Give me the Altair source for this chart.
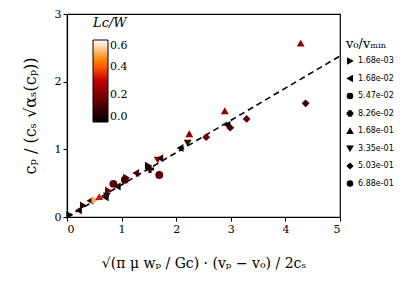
import altair as alt
import pandas as pd

# scatter data
x_vals = [0.05, 0.21, 0.30, 0.42, 0.51, 0.59, 0.70, 0.73, 0.76, 0.85, 0.92, 1.06, 1.09, 1.26,
          1.49, 1.52, 1.66, 1.70, 1.69, 2.07, 2.21, 2.24, 2.55, 2.89, 2.93, 2.99, 3.29, 4.28, 4.37]
y_vals = [0.03, 0.10, 0.17, 0.24, 0.25, 0.30, 0.29, 0.31, 0.39, 0.49, 0.45, 0.55, 0.58, 0.65,
          0.76, 0.71, 0.84, 0.87, 0.62, 1.02, 1.09, 1.23, 1.18, 1.57, 1.36, 1.32, 1.45, 2.57, 1.68]
lc_vals = [0.02, 0.05, 0.05, 0.08, 0.50, 0.32, 0.03, 0.05, 0.15, 0.14, 0.02, 0.12, 0.10, 0.10,
           0.06, 0.04, 0.25, 0.05, 0.14, 0.02, 0.10, 0.22, 0.17, 0.22, 0.00, 0.12, 0.13, 0.23, 0.08]
v0_vals = ["1.68e-03", "1.68e-02", "1.68e-03", "1.68e-02", "1.68e-03", "1.68e-01", "1.68e-02",
           "3.35e-01", "1.68e-03", "6.88e-01", "1.68e-02", "5.47e-02", "1.68e-03", "1.68e-02",
           "1.68e-03", "8.26e-02", "3.35e-01", "1.68e-02", "6.88e-01", "1.68e-02", "3.35e-01",
           "1.68e-01", "5.03e-01", "1.68e-01", "1.68e-02", "5.03e-01", "5.03e-01", "1.68e-01",
           "5.03e-01"]

v0_categories = ["1.68e-03", "1.68e-02", "5.47e-02", "8.26e-02",
                 "1.68e-01", "3.35e-01", "5.03e-01", "6.88e-01"]
v0_shapes = ["triangle-right", "triangle-left", "circle", "cross",
             "triangle-up", "triangle-down", "diamond", "circle"]

# dashed fit line
line_x = [0, 5]
line_y = [0, 2.38]

# gist_heat-like colormap
cmap_domain = [0, 0.3, 0.4, 0.45, 0.6]
cmap_range = ["#000000", "#bf0000", "#ff5500", "#ff8000", "#ffffff"]

df = pd.DataFrame({"x": x_vals, "y": y_vals, "lc": lc_vals, "v0": v0_vals})
df_line = pd.DataFrame({"x": line_x, "y": line_y})

serif = "DejaVu Serif"

xscale = alt.Scale(domain=[0, 5], nice=False)
yscale = alt.Scale(domain=[0, 3], nice=False)

xaxis = alt.Axis(values=[0, 1, 2, 3, 4, 5], title="√(π μ wₚ / Gc) · (vₚ − v₀) / 2cₛ",
                 titlePadding=22, titleFontSize=14)
yaxis = alt.Axis(values=[0, 1, 2, 3], title="cₚ / (cₛ √αₛ(cₚ))", titlePadding=16,
                 titleFontSize=16)

line = alt.Chart(df_line).mark_line(color="black", strokeDash=[6, 4], strokeWidth=1.6).encode(
    x=alt.X("x:Q", scale=xscale, axis=xaxis),
    y=alt.Y("y:Q", scale=yscale, axis=yaxis),
)

points = alt.Chart(df).mark_point(filled=True, size=62, opacity=1).encode(
    x=alt.X("x:Q", scale=xscale, axis=xaxis),
    y=alt.Y("y:Q", scale=yscale, axis=yaxis),
    color=alt.Color("lc:Q",
                    scale=alt.Scale(domain=cmap_domain, range=cmap_range, interpolate="rgb"),
                    legend=alt.Legend(title="Lc/W", orient="none", legendX=26, legendY=3,
                                      values=[0, 0.2, 0.4, 0.6], gradientLength=82,
                                      gradientThickness=15, gradientStrokeColor="black",
                                      gradientStrokeWidth=1, direction="vertical",
                                      titleFont=serif, titleFontStyle="italic",
                                      titleFontWeight="normal", titleFontSize=13,
                                      labelFont=serif, labelFontSize=11, format=".1f",
                                      tickCount=4, titlePadding=10)),
    shape=alt.Shape("v0:N", scale=alt.Scale(domain=v0_categories, range=v0_shapes),
                    legend=alt.Legend(title="v₀/vₘᵢₙ", orient="none", legendX=279, legendY=24,
                                      titleFont=serif, titleFontWeight="normal",
                                      titleFontSize=13, labelFont="DejaVu Sans",
                                      labelFontSize=8, symbolFillColor="black",
                                      symbolStrokeColor="black", symbolSize=26,
                                      rowPadding=5.5, titlePadding=6, symbolType="circle")),
)

chart = alt.layer(line, points).properties(
    width=273, height=203,
    autosize=alt.AutoSizeParams(type="none"),
    padding={"left": 59, "top": 6, "right": 67, "bottom": 83},
).configure_view(stroke="black", strokeWidth=1.2).configure_axis(
    grid=False, domainColor="black", tickColor="black", tickSize=4, labelFont=serif,
    labelFontSize=11, labelColor="black", titleFont=serif, titleFontSize=13,
    titleFontWeight="normal", titleColor="black", domainWidth=1.2,
)

chart.save("out.html", embed_options={"renderer": "svg", "actions": False})
